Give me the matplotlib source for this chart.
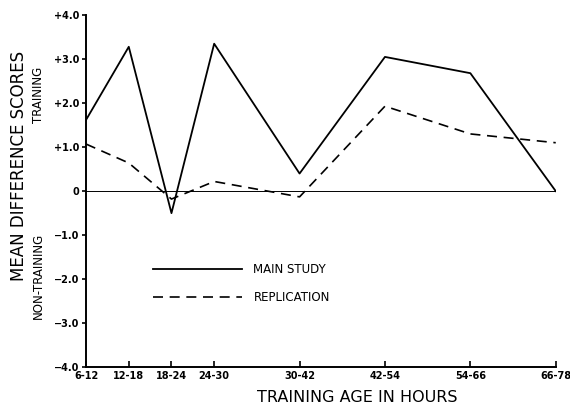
import matplotlib
matplotlib.use('Agg')
import matplotlib.pyplot as plt

# Age groups and their spacing along the axis (6-hour steps, then 12-hour steps)
age_groups = ['6-12', '12-18', '18-24', '24-30', '30-42', '42-54', '54-66', '66-78']
x_pos = [0, 1, 2, 3, 5, 7, 9, 11]

main_study = [1.62, 3.28, -0.5, 3.35, 0.4, 3.05, 2.68, 0.0]
replication = [1.07, 0.64, -0.18, 0.22, -0.13, 1.93, 1.3, 1.1]

y_ticks = [4, 3, 2, 1, 0, -1, -2, -3, -4]
y_tick_labels = ['+4.0', '+3.0', '+2.0', '+1.0', '0', '\u22121.0', '\u22122.0', '\u22123.0', '\u22124.0']

plt.rcParams['font.family'] = ['DejaVu Sans']

fig = plt.figure(figsize=(5.7, 4.08), dpi=100)
ax = fig.add_axes([0.151, 0.100, 0.824, 0.863])

ax.axhline(0, color='black', lw=0.7)
ax.plot(x_pos, main_study, color='black', lw=1.3, label='MAIN STUDY')
ax.plot(x_pos, replication, color='black', lw=1.2, dashes=(6, 4), label='REPLICATION')

ax.set_xlim(0, 11)
ax.set_ylim(-4, 4)
ax.set_xticks(x_pos)
ax.set_xticklabels(age_groups, fontsize=7, fontweight='bold')
ax.set_yticks(y_ticks)
ax.set_yticklabels(y_tick_labels, fontsize=7, fontweight='bold')
ax.tick_params(axis='x', direction='in', length=4, width=1.2, pad=3)
ax.tick_params(axis='y', direction='out', length=3, width=1.2, pad=2)

for side in ['top', 'right']:
    ax.spines[side].set_visible(False)
for side in ['left', 'bottom']:
    ax.spines[side].set_linewidth(1.4)

fig.text(0.626, 0.025, 'TRAINING AGE IN HOURS', fontsize=11.5, ha='center', va='center')
fig.text(0.034, 0.593, 'MEAN DIFFERENCE SCORES', rotation=90, fontsize=12,
         ha='center', va='center')
fig.text(0.068, 0.767, 'TRAINING', rotation=90, fontsize=8.5, ha='center', va='center')
fig.text(0.068, 0.324, 'NON-TRAINING', rotation=90, fontsize=8.5, ha='center', va='center')

leg = ax.legend(loc='upper left', bbox_to_anchor=(0.12, 0.325), frameon=False,
                handlelength=7.5, handletextpad=1.0, labelspacing=1.25, fontsize=8.5)

fig.savefig('out.png', dpi=100)
